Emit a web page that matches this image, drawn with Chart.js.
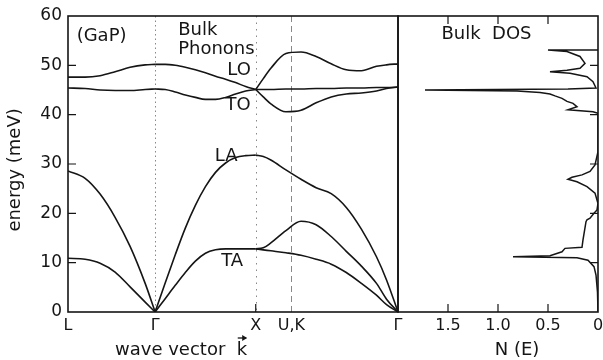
<!DOCTYPE html>
<html>
<head>
<meta charset="utf-8">
<script src="https://cdn.jsdelivr.net/npm/chart.js@4"></script>
<style>
  html, body { margin: 0; padding: 0; background: #fff; }
  #wrap { position: relative; width: 603px; height: 360px; overflow: hidden; }
  canvas { position: absolute; top: 0; }
  #bands { left: 0; }
  #dos { left: 392px; }
</style>
</head>
<body>
<div id="wrap">
  <canvas id="bands" width="420" height="360"></canvas>
  <canvas id="dos" width="211" height="360"></canvas>
</div>
<script>
// wave vector path (units of 2pi/a) and labels
const kTicks = [-0.866, 0, 1, 1.354, 2.414];
const kLabels = ['L', 'Γ', 'X', 'U,K', 'Γ'];
const energyTicks = [0, 10, 20, 30, 40, 50, 60];

// L -> Gamma
const kLG = [-0.866, -0.696, -0.547, -0.398, -0.249, -0.099, 0];
const loLG = [47.6, 47.6, 47.9, 48.7, 49.6, 50.1, 50.2];
const toLG = [45.4, 45.3, 45.0, 44.9, 44.9, 45.1, 45.2];
const laLG = [28.6, 27.1, 23.9, 19.2, 13.3, 5.8, 0];
const taLG = [10.9, 10.7, 9.9, 8.1, 5.1, 2.0, 0];

// Gamma -> X
const kGX = [0, 0.1, 0.2, 0.3, 0.4, 0.5, 0.6, 0.7, 0.8, 0.9, 1.0];
const loGX = [50.2, 50.2, 50.0, 49.6, 49.1, 48.5, 47.8, 47.2, 46.5, 45.7, 45.1];
const toGX = [45.2, 45.1, 44.6, 44.0, 43.5, 43.1, 43.1, 43.5, 44.2, 44.8, 45.1];
const laGX = [0, 5.9, 11.6, 17.0, 21.6, 25.4, 28.3, 30.2, 31.3, 31.7, 31.8];
const taGX = [0, 2.7, 5.4, 8.0, 10.3, 11.9, 12.6, 12.8, 12.8, 12.8, 12.8];

// X -> U,K -> Gamma
const kXG = [1.0, 1.075, 1.15, 1.3, 1.45, 1.6, 1.75, 1.9, 2.05, 2.2, 2.3, 2.414];
const opUpXG = [45.1, 47.3, 49.4, 52.4, 52.7, 51.8, 50.3, 49.1, 48.9, 49.8, 50.1, 50.3];
const opMidXG = [45.1, 45.1, 45.1, 45.2, 45.2, 45.3, 45.3, 45.4, 45.4, 45.5, 45.5, 45.6];
const opLowXG = [45.1, 43.6, 42.2, 40.6, 40.9, 42.4, 43.6, 44.2, 44.4, 44.8, 45.3, 45.6];
const acUpXG = [31.8, 31.5, 30.8, 28.8, 26.9, 25.2, 24.0, 21.2, 16.8, 11.2, 6.5, 0];
const acMidXG = [12.8, 13.0, 14.0, 16.5, 18.4, 17.7, 15.3, 12.3, 9.3, 5.8, 2.6, 0];
const acLowXG = [12.8, 12.6, 12.4, 12.0, 11.5, 10.7, 9.7, 8.0, 5.8, 3.4, 1.5, 0];

// bulk density of states N(E)
const dosTicks = [0, 0.5, 1.0, 1.5];
const dosTickLabels = ['0', '0.5', '1.0', '1.5'];
const dosE = [0, 4, 7.5, 9.2, 10.5, 11.0, 11.2, 11.4, 12.2, 12.9, 13.1, 14.6, 18.3, 18.7, 19.0, 20.0,
  20.7, 22.0, 24.1, 25.4, 26.4, 26.9, 27.3, 27.8, 28.5, 29.8, 32.5, 40.3, 40.6, 41.0, 41.6, 42.3,
  42.7, 43.3, 43.8, 44.2, 44.5, 44.8, 45.0, 45.2, 45.4, 46.7, 47.7, 48.4, 48.7, 49.0, 49.4, 50.4,
  51.8, 52.8, 53.1, 53.1];
const dosN = [0, 0.005, 0.02, 0.04, 0.10, 0.21, 0.85, 0.48, 0.36, 0.33, 0.16, 0.15, 0.12, 0.11, 0.08, 0.04,
  0.01, 0, 0.03, 0.11, 0.21, 0.30, 0.26, 0.16, 0.08, 0.03, 0, 0, 0.05, 0.30, 0.21, 0.25,
  0.31, 0.36, 0.43, 0.48, 0.58, 0.81, 1.73, 0.30, 0.02, 0.05, 0.11, 0.28, 0.48, 0.31, 0.18, 0.13,
  0.18, 0.31, 0.50, 0];

const INK = '#151515';
const FONT = "'DejaVu Sans', sans-serif";
Chart.defaults.font.family = FONT;
Chart.defaults.font.size = 16;
Chart.defaults.color = INK;

const pts = (xs, ys) => xs.map((x, i) => ({ x, y: ys[i] }));
const branch = (xs, ys) => ({
  data: pts(xs, ys), showLine: true, borderColor: INK, borderWidth: 1.6,
  pointRadius: 0, cubicInterpolationMode: 'monotone', fill: false
});

// frame, inward ticks, dashed guides and lettering
function makeInk(cfg) {
  return {
    id: 'ink',
    beforeDatasetsDraw(chart) {
      const { ctx, chartArea: a, scales: { x } } = chart;
      ctx.save();
      ctx.strokeStyle = '#888';
      ctx.lineWidth = 1;
      (cfg.guides || []).forEach(g => {
        const px = Math.round(x.getPixelForValue(g.at)) + 0.5;
        ctx.setLineDash(g.dash);
        ctx.beginPath();
        ctx.moveTo(px, a.top);
        ctx.lineTo(px, a.bottom);
        ctx.stroke();
      });
      ctx.restore();
    },
    afterDatasetsDraw(chart) {
      const { ctx, chartArea: a, scales: { x, y } } = chart;
      ctx.save();
      ctx.strokeStyle = INK;
      ctx.lineWidth = 1.6;
      ctx.strokeRect(a.left, a.top, a.right - a.left, a.bottom - a.top);
      ctx.lineWidth = 1.2;
      ctx.beginPath();
      (cfg.yTicks || []).forEach(v => {
        const py = y.getPixelForValue(v);
        if (cfg.ySide === 'right') { ctx.moveTo(a.right, py); ctx.lineTo(a.right - 8, py); }
        else { ctx.moveTo(a.left, py); ctx.lineTo(a.left + 8, py); }
      });
      (cfg.xTicks || []).forEach(v => {
        const px = x.getPixelForValue(v);
        ctx.moveTo(px, a.bottom); ctx.lineTo(px, a.bottom - 8);
        if (cfg.topTicks) { ctx.moveTo(px, a.top); ctx.lineTo(px, a.top + 8); }
      });
      ctx.stroke();

      ctx.fillStyle = INK;
      ctx.textBaseline = 'middle';
      (cfg.notes || []).forEach(n => {
        ctx.font = (n.size || 18) + 'px ' + FONT;
        ctx.textAlign = n.align || 'center';
        ctx.fillText(n.text, x.getPixelForValue(n.x), y.getPixelForValue(n.y));
      });
      (cfg.titles || []).forEach(t => {
        const px = t.x !== undefined ? x.getPixelForValue(t.x) : t.px;
        const py = t.y !== undefined ? y.getPixelForValue(t.y) : a.bottom + t.below;
        ctx.save();
        ctx.translate(px, py);
        if (t.rot) ctx.rotate(t.rot);
        ctx.font = '18px ' + FONT;
        ctx.textAlign = 'center';
        ctx.fillText(t.text, 0, 0);
        if (t.arrow) {
          // vector arrow over the last letter
          const w = ctx.measureText(t.text).width;
          const kw = ctx.measureText('k').width;
          const x1 = w / 2 - kw + 1, x2 = w / 2 - 1, ya = -12;
          ctx.lineWidth = 1.3;
          ctx.beginPath();
          ctx.moveTo(x1, ya); ctx.lineTo(x2, ya);
          ctx.stroke();
          ctx.beginPath();
          ctx.moveTo(x2 + 1, ya); ctx.lineTo(x2 - 4, ya - 3); ctx.lineTo(x2 - 4, ya + 3);
          ctx.closePath();
          ctx.fill();
        }
        ctx.restore();
      });
      ctx.restore();
    }
  };
}

const baseScale = {
  grid: { display: false, drawTicks: false },
  border: { display: false }
};

new Chart(document.getElementById('bands'), {
  type: 'scatter',
  data: {
    datasets: [
      branch(kLG, loLG), branch(kLG, toLG), branch(kLG, laLG), branch(kLG, taLG),
      branch(kGX, loGX), branch(kGX, toGX), branch(kGX, laGX), branch(kGX, taGX),
      branch(kXG, opUpXG), branch(kXG, opMidXG), branch(kXG, opLowXG),
      branch(kXG, acUpXG), branch(kXG, acMidXG), branch(kXG, acLowXG)
    ]
  },
  options: {
    responsive: false,
    animation: false,
    layout: { padding: { top: 16, right: 22, left: 0, bottom: 0 } },
    plugins: { legend: { display: false }, tooltip: { enabled: false } },
    scales: {
      x: {
        ...baseScale, type: 'linear', min: kTicks[0], max: kTicks[kTicks.length - 1],
        afterBuildTicks: s => { s.ticks = kTicks.map(v => ({ value: v })); },
        ticks: { autoSkip: false, maxRotation: 0, padding: 4, callback: (v, i) => kLabels[i] },
        afterFit: s => { s.height = 48; s.paddingLeft = 0; s.paddingRight = 0; }
      },
      y: {
        ...baseScale, min: 0, max: 60,
        afterBuildTicks: s => { s.ticks = energyTicks.map(v => ({ value: v })); },
        ticks: { padding: 6, font: { size: 17 } },
        afterFit: s => { s.width = 68; s.paddingTop = 0; s.paddingBottom = 0; }
      }
    }
  },
  plugins: [makeInk({
    guides: [{ at: 0, dash: [1.5, 3] }, { at: 1, dash: [1.5, 5] }, { at: 1.354, dash: [6, 4] }],
    yTicks: [10, 20, 30, 40, 50],
    xTicks: [1],
    notes: [
      { text: '(GaP)', x: -0.78, y: 55.8, align: 'left' },
      { text: 'Bulk', x: 0.229, y: 57.0, align: 'left' },
      { text: 'Phonons', x: 0.229, y: 53.2, align: 'left' },
      { text: 'LO', x: 0.835, y: 48.9 },
      { text: 'TO', x: 0.825, y: 41.8 },
      { text: 'LA', x: 0.706, y: 31.5 },
      { text: 'TA', x: 0.765, y: 10.3 }
    ],
    titles: [
      { text: 'energy (meV)', px: 15, y: 28.8, rot: -Math.PI / 2 },
      { text: 'wave vector  k', x: 0.258, below: 38, arrow: true }
    ]
  })]
});

new Chart(document.getElementById('dos'), {
  type: 'scatter',
  data: {
    datasets: [{
      data: pts(dosN, dosE), showLine: true, borderColor: INK, borderWidth: 1.5,
      pointRadius: 0, tension: 0, fill: false
    }]
  },
  options: {
    responsive: false,
    animation: false,
    layout: { padding: { top: 16, right: 5, left: 6, bottom: 0 } },
    plugins: { legend: { display: false }, tooltip: { enabled: false } },
    scales: {
      x: {
        ...baseScale, type: 'linear', reverse: true, min: 0, max: 2,
        afterBuildTicks: s => { s.ticks = dosTicks.map(v => ({ value: v })); },
        ticks: { autoSkip: false, maxRotation: 0, padding: 4, callback: (v, i) => dosTickLabels[i] },
        afterFit: s => { s.height = 48; s.paddingLeft = 0; s.paddingRight = 0; }
      },
      y: { display: false, min: 0, max: 60 }
    }
  },
  plugins: [makeInk({
    ySide: 'right',
    yTicks: [10, 20, 30, 40, 50],
    xTicks: [0.5, 1.0, 1.5],
    topTicks: true,
    notes: [{ text: 'Bulk  DOS', x: 1.115, y: 56.2 }],
    titles: [{ text: 'N (E)', x: 0.81, below: 38 }]
  })]
});
</script>
</body>
</html>
